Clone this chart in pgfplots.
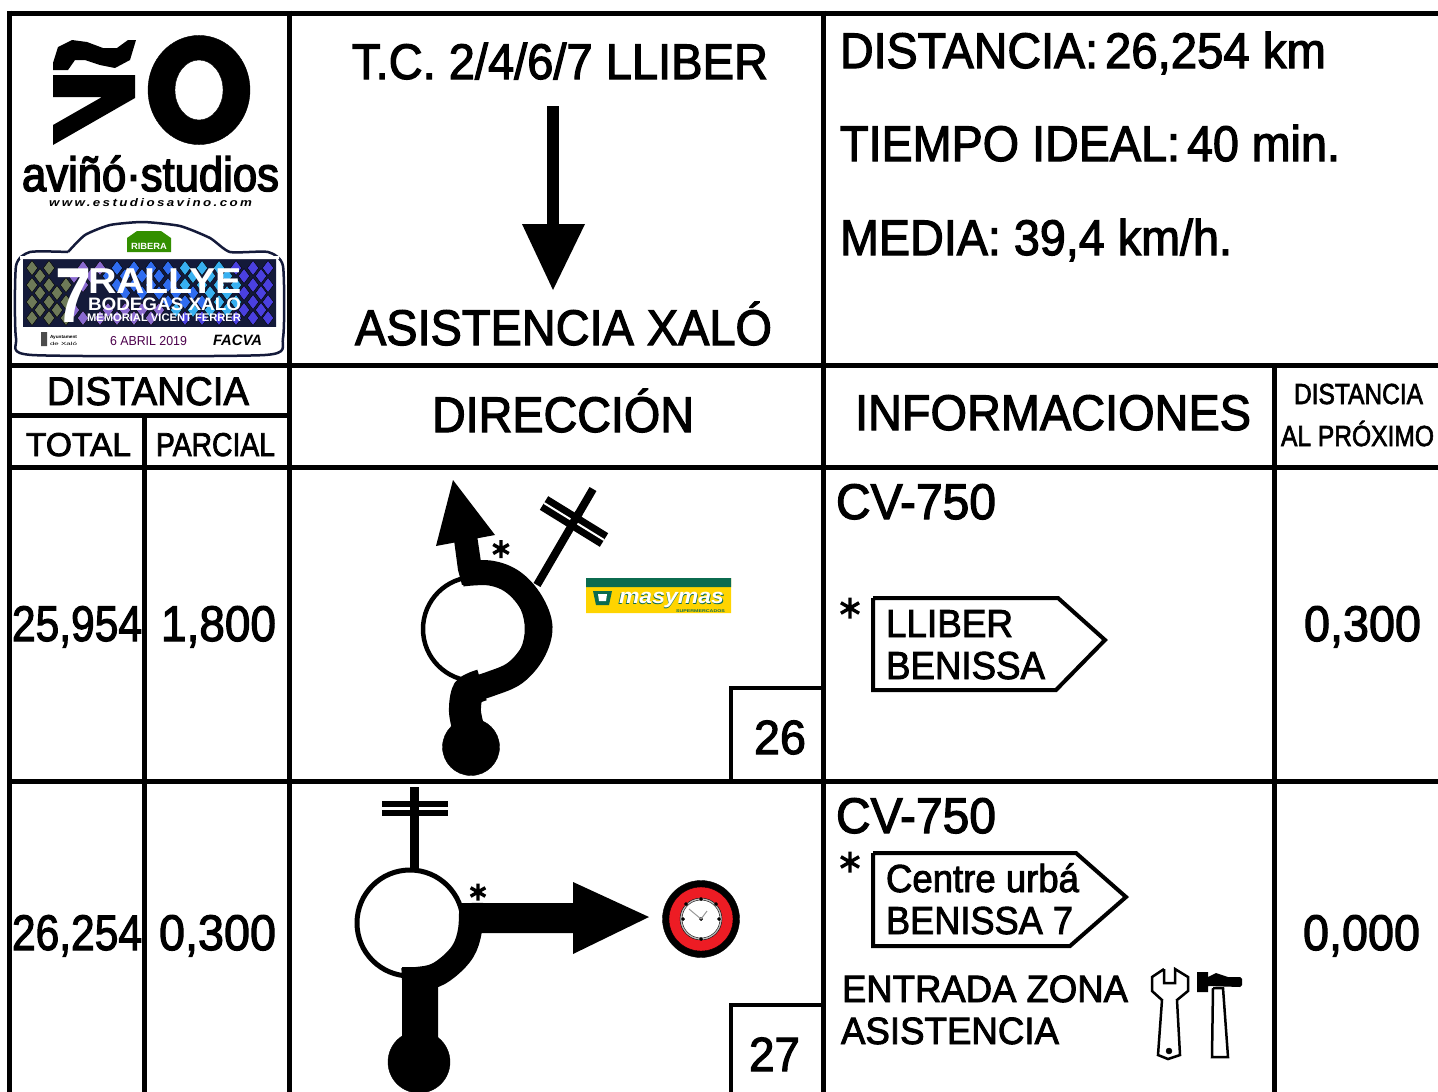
\documentclass[border=0pt]{standalone}
\usepackage{pgfplots}
\usepackage{graphicx}
\pgfplotsset{compat=1.18}
\usepackage{fontspec}
\setmainfont{Liberation Sans}[FakeBold=2.4]
\newfontfamily\hb{Liberation Sans}[FakeBold=3.2]
\newfontfamily\hr{Liberation Sans}
\definecolor{msgreen}{HTML}{0B6B4F}
\definecolor{msyellow}{HTML}{FFD400}
\definecolor{clockred}{HTML}{ED1C24}
\definecolor{dkband}{HTML}{141A3A}
\definecolor{mosa}{HTML}{6E7A58}
\definecolor{mosb}{HTML}{8A6AD0}
\definecolor{mosc}{HTML}{2F6CF0}
\definecolor{mosd}{HTML}{38B0F0}
\definecolor{mose}{HTML}{4A40E0}
\newcommand{\T}[5]{\node[anchor=base west,inner sep=0pt,outer sep=0pt,text=black] at (axis cs:#1,#2) {\resizebox{#3pt}{\height}{\fontsize{#4}{#4}\selectfont #5}};}
\newcommand{\TC}[6]{\node[anchor=base west,inner sep=0pt,outer sep=0pt,text=#6] at (axis cs:#1,#2) {\resizebox{#3pt}{\height}{\fontsize{#4}{#4}\selectfont #5}};}
\newcommand{\Ln}[2]{\addplot[black,line width=#1pt,no markers,line cap=butt,line join=miter] coordinates {#2};}
\newcommand{\Pl}[2]{\addplot[fill=#1,draw=none,no markers] coordinates {#2};}
\newcommand{\M}[4]{\addplot[only marks,mark=*,mark size=#3pt,mark options={draw=none,fill=#4}] coordinates {(#1,#2)};}
\newcommand{\Ast}[3]{\addplot[only marks,black,mark=asterisk,mark size=#3pt,mark options={line width=3.4pt,black}] coordinates {(#1,#2)};}
\begin{document}
\begin{tikzpicture}
\path[use as bounding box] (0,0) rectangle (1438pt,1092pt);
\begin{axis}[
  at={(0,0)}, anchor=south west,
  scale only axis, width=1438pt, height=1092pt,
  xmin=0,xmax=1438,ymin=0,ymax=1092,y dir=reverse,
  hide axis, clip=true, clip marker paths=true]

% ---- table grid
\Ln{5}{(9,13)(1438,13)}
\Ln{5}{(9,10.5)(9,1092)}
\Ln{5}{(289,10.5)(289,1092)}
\Ln{5}{(823,10.5)(823,1092)}
\Ln{5}{(7,365)(1438,365)}
\Ln{5}{(7,467)(1438,467)}
\Ln{5}{(7,781)(1438,781)}
\Ln{5}{(7,415)(289,415)}
\Ln{5}{(144,415)(144,1092)}
\Ln{5}{(1274,365)(1274,1092)}
% number boxes
\Ln{4}{(731,781)(731,688)(823,688)}
\Ln{4}{(731,1092)(731,1005)(823,1005)}

% ---- logo
\Pl{black}{(53,63)(58,47)(72,40)(87,42)(103,48)(117,48)(128,40)(136,40)(130,60)(115,68)(100,65)(85,60)(75,60)(68,70)(53,70)(53,63)}
\Pl{black}{(53,75)(135,75)(135,98)(53,145)(53,125)(102,97)(53,97)(53,75)}
\addplot[only marks,mark=*,mark size=51pt,mark options={draw=none,fill=black,yscale=1.07}] coordinates {(199,90)};
\addplot[only marks,mark=*,mark size=24pt,mark options={draw=none,fill=white,yscale=1.25}] coordinates {(199,90)};
\T{22}{191}{257}{48}{\hb aviñó·studios}
\T{49}{206}{203}{11}{\hr\bfseries\itshape\addfontfeature{LetterSpace=18}www.estudiosavino.com}

% ---- rally plate
\addplot[fill=white,draw=dkband,line width=2.5pt,no markers,smooth,tension=0.35] coordinates {(68,252)(85,235)(110,225)(143,222)(180,226)(210,238)(230,252)(268,252)(283,266)(283,338)(265,355)(32,355)(16,338)(16,266)(30,252)(68,252)};
\Pl{dkband}{(23,259)(276,259)(276,327)(23,327)(23,259)}
\addplot[only marks,mark=diamond*,mark size=7.5pt,mark options={draw=none,fill=mosa}] coordinates {
(32,268)(32,285)(32,302)(32,318)(49,268)(49,285)(49,302)(49,318)(66,285)(66,302)(66,318)(40,276)(40,293)(40,310)(57,293)(57,310)};
\addplot[only marks,mark=diamond*,mark size=7.5pt,mark options={draw=none,fill=mosb}] coordinates {
(83,268)(83,285)(83,318)(100,268)(100,318)(74,276)(74,310)(91,276)(108,310)(117,318)(125,310)(134,318)(142,310)(151,318)(159,310)};
\addplot[only marks,mark=diamond*,mark size=7.5pt,mark options={draw=none,fill=mosc}] coordinates {
(117,268)(134,268)(151,268)(168,268)(108,276)(125,276)(142,276)(159,276)(176,276)(117,285)(134,285)(151,285)(168,285)(125,293)(142,293)(159,293)(176,293)(193,293)(168,302)(185,302)(202,302)};
\addplot[only marks,mark=diamond*,mark size=7.5pt,mark options={draw=none,fill=mosd}] coordinates {
(185,268)(202,268)(219,268)(193,276)(210,276)(227,276)(185,285)(202,285)(219,285)(236,285)(210,293)(227,293)(219,302)(236,302)(176,310)(193,310)(210,310)(227,310)};
\addplot[only marks,mark=diamond*,mark size=7.5pt,mark options={draw=none,fill=mose}] coordinates {
(236,268)(253,268)(268,268)(244,276)(261,276)(253,285)(268,285)(244,293)(261,293)(253,302)(268,302)(244,310)(261,310)(185,318)(202,318)(219,318)(236,318)(253,318)(268,318)};
\Pl{white}{(20,256)(279,256)(279,259)(20,259)(20,256)}
\Pl{white}{(20,327)(279,327)(279,330)(20,330)(20,327)}
\TC{55}{322}{36}{78}{\hr\bfseries 7}{white}
\TC{88}{293}{154}{36}{\hr\bfseries RALLYE}{white}
\TC{88}{310}{153}{18}{\hr\bfseries BODEGAS XALO}{white}
\TC{87}{321}{154}{11}{\hr\bfseries MEMORIAL VICENT FERRER}{white}
\TC{110}{345}{77}{13}{\hr 6 ABRIL 2019}{violet!60!black}
\TC{213}{345}{49}{15}{\hr\bfseries\itshape FACVA}{black}
\TC{50}{338}{27}{4.5}{\hr\bfseries Ayuntament}{black}
\TC{50}{345}{27}{4.5}{\hr de Xaló}{black}
\Pl{black!70}{(41,332)(47,332)(47,346)(41,346)(41,332)}
\Pl{green!45!black!80!yellow}{(127,252)(127,238)(137,231)(161,231)(171,238)(171,252)(127,252)}
\TC{131}{249}{36}{9}{\hr\bfseries RIBERA}{white}

% ---- header text
\T{352}{79}{416}{50}{T.C. 2/4/6/7 LLIBER}
\Ln{12}{(553,106)(553,226)}
\Pl{black}{(522,224)(585,224)(553,290)(522,224)}
\T{355}{345}{417}{50}{ASISTENCIA XALÓ}
\T{840}{68}{258}{50}{DISTANCIA:}
\T{1105}{68}{221}{50}{26,254 km}
\T{840}{161}{340}{50}{TIEMPO IDEAL:}
\T{1187}{161}{153}{50}{40 min.}
\T{840}{255}{392}{50}{MEDIA: 39,4 km/h.}

\T{47}{405}{202}{40}{DISTANCIA}
\T{26}{456}{105}{33}{TOTAL}
\T{156}{456}{119}{33}{PARCIAL}
\T{432}{432}{262}{50}{DIRECCIÓN}
\T{855}{430}{396}{50}{INFORMACIONES}
\T{1294}{404}{129}{29}{DISTANCIA}
\T{1281}{446}{153}{29}{AL PRÓXIMO}

% ---- row 1
\T{12}{641}{130}{50}{25,954}
\T{161}{641}{115}{50}{1,800}
\T{836}{519}{160}{50}{CV-750}
\T{1304}{641}{117}{50}{0,300}
\T{754}{754}{52}{48}{26}
\Ast{850}{608}{10.5}
\Ln{4}{(873,598)(1058,598)(1105,640)(1056,690)(873,690)(873,598)}
\T{886}{637}{127}{39}{LLIBER}
\T{886}{679}{159}{39}{BENISSA}

% side road with barred end
\Ln{8}{(537,585)(593,489)}
\Ln{16}{(544,503)(604,540)}
\addplot[white,line width=2pt,no markers] coordinates {(544,503)(604,540)};
\addplot[black,line width=8pt,no markers] coordinates {(570,528)(579,513)};
% roundabout
\addplot[only marks,mark=*,mark size=52pt,mark options={draw=black,fill=white,line width=4.5pt}] coordinates {(475,629)};
\addplot[black,line width=25pt,no markers,smooth,tension=0.6] coordinates {(462,574)(490,573)(513,582)(531,602)(540,627)(533,652)(515,673)(490,684)(470,690)};
\addplot[black,line width=32pt,no markers,smooth] coordinates {(482,685)(468,692)(465,712)(470,735)};
\M{471}{747}{28.5}{black}
% arrow
\Pl{black}{(453,480)(495,535)(436,546)(453,480)}
\Pl{black}{(454,540)(477,535)(481,562)(483,583)(462,585)(458,570)(454,540)}
\Ast{501}{549}{9}
% masymas
\Pl{msyellow}{(586,578)(731,578)(731,613)(586,613)(586,578)}
\Pl{msgreen}{(586,578)(731,578)(731,587)(586,587)(586,578)}
\Pl{msgreen}{(593,591)(612,591)(609,605)(596,605)(593,591)}
\Pl{white}{(598,594)(607,594)(606,601)(599,601)(598,594)}
\TC{618}{604}{107}{21}{\hr\bfseries\itshape masymas}{msgreen}
\TC{619}{603}{105}{21}{\hr\bfseries\itshape masymas}{white}
\TC{676}{612.5}{49}{4}{\hr\bfseries SUPERMERCADOS}{msgreen}

% ---- row 2
\T{12}{950}{130}{50}{26,254}
\T{159}{950}{117}{50}{0,300}
\T{836}{833}{160}{50}{CV-750}
\T{1303}{950}{117}{50}{0,000}
\T{749}{1071}{51}{48}{27}
\Ast{850}{862}{10.5}
\Ln{4}{(873,853)(1076,853)(1126,897)(1070,946)(873,946)(873,853)}
\T{886}{892}{193}{39}{Centre urbá}
\T{886}{934}{187}{39}{BENISSA 7}
\T{842}{1002}{286}{38}{ENTRADA ZONA}
\T{841}{1044}{218}{38}{ASISTENCIA}
% tools
\addplot[fill=white,draw=black,line width=2.5pt,no markers] coordinates {(1164,969)(1152,977)(1152,991)(1162,1000)(1158,1055)(1168,1059)(1180,1055)(1177,1000)(1188,991)(1188,977)(1175,969)(1175,983)(1164,983)(1164,969)};
\M{1169}{1051}{3}{black}
\addplot[fill=white,draw=black,line width=2.5pt,no markers] coordinates {(1213,988)(1212,1057)(1228,1057)(1223,988)(1213,988)};
\Pl{black}{(1197,972)(1208,972)(1208,977)(1216,973)(1228,977)(1240,977)(1242,979)(1242,985)(1240,987)(1208,986)(1208,992)(1197,992)(1197,972)}

% road
\Ln{9}{(414,787)(414,870)}
\Ln{15}{(382,808.5)(448,808.5)}
\addplot[white,line width=3pt,no markers] coordinates {(382,808.5)(410,808.5)};
\addplot[white,line width=3pt,no markers] coordinates {(419,808.5)(448,808.5)};
\addplot[only marks,mark=*,mark size=53pt,mark options={draw=black,fill=white,line width=5pt}] coordinates {(410,923)};
\addplot[black,line width=24pt,no markers,smooth,tension=0.6] coordinates {(471,903)(470,930)(463,951)(447,968)(430,977)(402,980)};
\Pl{black}{(402,967)(438,967)(438,1045)(402,1045)(402,967)}
\M{419}{1062}{31}{black}
\Pl{black}{(460,903)(573,903)(573,933)(470,933)(460,930)(460,903)}
\Pl{black}{(573,882)(649,917)(573,954)(573,882)}
\Ast{478}{892}{8.5}
% clock
\M{701}{919}{38.5}{black}
\M{701}{919}{32}{clockred}
\M{701}{919}{21}{black!25}
\M{701}{919}{19}{white}
\addplot[only marks,mark=*,mark size=1.7pt,mark options={draw=none,fill=black}] coordinates {(701,899)(701,939)(683,919)(719,919)(686,904)(716,904)(701,919)};
\addplot[black!40,line width=1pt,no markers] coordinates {(689,909)(701,919)(707,911)};

\end{axis}
\end{tikzpicture}
\end{document}
